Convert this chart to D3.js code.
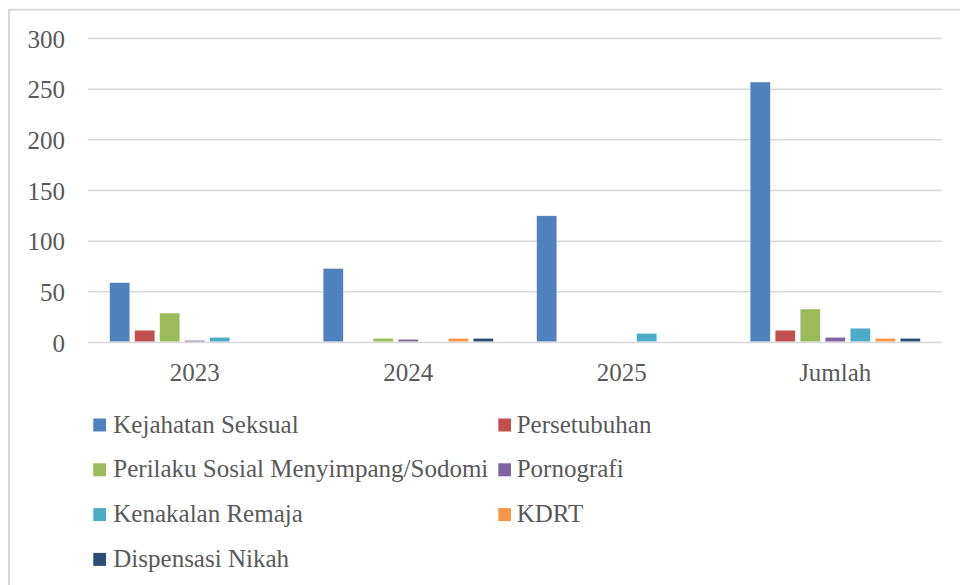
<!DOCTYPE html>
<html>
<head>
<meta charset="utf-8">
<script src="https://cdn.jsdelivr.net/npm/d3@7"></script>
<style>
  body { margin: 0; background: #fff; }
  svg text { font-family: "Liberation Serif", serif; fill: #595959; }
</style>
</head>
<body>
<svg width="960" height="585"></svg>
<script>
// Data
var categories = ["2023", "2024", "2025", "Jumlah"];
var seriesNames = [
    "Kejahatan Seksual",
    "Persetubuhan",
    "Perilaku Sosial Menyimpang/Sodomi",
    "Pornografi",
    "Kenakalan Remaja",
    "KDRT",
    "Dispensasi Nikah"
];
var kejahatanSeksual = [59, 73, 125, 257];
var persetubuhan     = [12, 0, 0, 12];
var perilakuSosial   = [29, 4, 0, 33];
var pornografi       = [2, 3, 0, 5];
var kenakalanRemaja  = [5, 0, 9, 14];
var kdrt             = [0, 4, 0, 4];
var dispensasiNikah  = [0, 4, 0, 4];
var yTicks = [0, 50, 100, 150, 200, 250, 300];

var seriesValues = [kejahatanSeksual, persetubuhan, perilakuSosial, pornografi,
                    kenakalanRemaja, kdrt, dispensasiNikah];
var colors = ["#4F81BD", "#C0504D", "#9BBB59", "#8064A2", "#4BACC6", "#F79646", "#2C4D75"];

// The svg
var svg = d3.select("svg"),
    width = +svg.attr("width"),
    height = +svg.attr("height");

// outer frame (only left and top edges are visible)
svg.append("path")
    .attr("d", "M9,585 V9.8 H960")
    .attr("fill", "none")
    .attr("stroke", "#d9d9d9")
    .attr("stroke-width", 2);

var plotLeft = 88, plotRight = 942, plotTop = 38.5, plotBottom = 342.5;

// Scales
var x0 = d3.scaleBand()
    .domain(categories)
    .range([plotLeft, plotRight])
    .paddingInner(0.18)
    .paddingOuter(0.09);

var x1 = d3.scaleBand()
    .domain(seriesNames)
    .range([0, x0.bandwidth()])
    .paddingInner(0.2)
    .paddingOuter(0.1);

var y = d3.scaleLinear()
    .domain([0, 300])
    .range([plotBottom, plotTop]);

// gridlines
svg.append("g")
    .selectAll("line")
    .data(yTicks.filter(function(d){ return d > 0 }))
    .enter()
    .append("line")
    .attr("x1", plotLeft)
    .attr("x2", plotRight)
    .attr("y1", function(d){ return y(d) })
    .attr("y2", function(d){ return y(d) })
    .attr("stroke", "#d9d9d9")
    .attr("stroke-width", 1.5);

// y axis labels
var yAxis = svg.append("g")
    .attr("transform", "translate(" + plotLeft + ",0)")
    .call(d3.axisLeft(y).tickValues(yTicks).tickSize(0));
yAxis.select(".domain").remove();
yAxis.selectAll("text")
    .attr("x", -23)
    .attr("dy", "0.34em")
    .style("font-size", "25px")
    .style("font-family", "Liberation Serif, serif")
    .attr("fill", "#595959");

// Bars
var rows = [];
seriesValues.forEach(function(vals, s) {
    vals.forEach(function(v, c) {
        if (v > 0) rows.push({ series: seriesNames[s], cat: categories[c], value: v, color: colors[s] });
    });
});

svg.append("g")
    .selectAll("rect")
    .data(rows)
    .enter()
    .append("rect")
    .attr("x", function(d){ return x0(d.cat) + x1(d.series) })
    .attr("y", function(d){ return y(d.value) })
    .attr("width", x1.bandwidth())
    .attr("height", function(d){ return y(0) - y(d.value) - 0.75 })
    .attr("fill", function(d){ return d.color })
    .attr("stroke", "#ffffff")
    .attr("stroke-opacity", 0.5)
    .attr("stroke-width", 0.5);

// x axis
var xAxis = svg.append("g")
    .attr("transform", "translate(0," + plotBottom + ")")
    .call(d3.axisBottom(x0).tickSize(0));
xAxis.select(".domain")
    .attr("stroke", "#d9d9d9")
    .attr("stroke-width", 1.5)
    .attr("d", "M" + plotLeft + ",0H" + plotRight);
xAxis.selectAll("text")
    .attr("y", 38)
    .attr("dy", 0)
    .style("font-size", "25px")
    .style("font-family", "Liberation Serif, serif")
    .attr("fill", "#595959");

// Legend
var legendCols = [93.3, 498.3];
var legend = svg.append("g")
    .selectAll("g")
    .data(seriesNames)
    .enter()
    .append("g")
    .attr("transform", function(d, i){
        return "translate(" + legendCols[i % 2] + "," + (432.5 + Math.floor(i / 2) * 44.8) + ")";
    });

legend.append("rect")
    .attr("x", 0)
    .attr("y", -14)
    .attr("width", 12.7)
    .attr("height", 13)
    .attr("fill", function(d, i){ return colors[i] });

legend.append("text")
    .attr("x", function(d, i){ return i % 2 ? 18.4 : 20 })
    .attr("y", 0)
    .text(function(d){ return d })
    .style("font-size", "25px");
</script>
</body>
</html>
